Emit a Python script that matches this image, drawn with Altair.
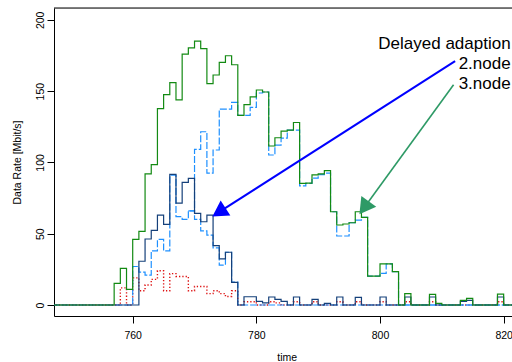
import altair as alt
import pandas as pd

# ---------------- data ----------------
time = [747, 748, 749, 750, 751, 752, 753, 754, 755, 756,
        757, 758, 759, 760, 761, 762, 763, 764, 765, 766,
        767, 768, 769, 770, 771, 772, 773, 774, 775, 776,
        777, 778, 779, 780, 781, 782, 783, 784, 785, 786,
        787, 788, 789, 790, 791, 792, 793, 794, 795, 796,
        797, 798, 799, 800, 801, 802, 803, 804, 805, 806,
        807, 808, 809, 810, 811, 812, 813, 814, 815, 816,
        817, 818, 819, 820, 821, 822]

green = [0, 0, 0, 0, 0, 0, 0, 0, 0, 0,
         15.2, 25.7, 11, 46, 51.7, 92, 98.4, 137.7, 147.5, 156,
         143.8, 176, 180.4, 185, 179.8, 155.2, 161.3, 170.2, 174.8, 168.5,
         133, 140.6, 146, 150.8, 149.4, 111.5, 117.3, 122, 122.7, 128,
         85.3, 85.5, 91.2, 91.9, 94.2, 65.4, 56.1, 56.8, 57.7, 65.4,
         61.5, 20.3, 20.3, 28.8, 28.8, 23.4, 0, 8, 0, 0,
         0, 7.5, 1.2, 0, 0, 0, 3.3, 4.7, 0, 0,
         0, 0, 7.7, 0, 0, 0]

navy = [0, 0, 0, 0, 0, 0, 0, 0, 0, 0,
        0, 0, 0, 0, 30.7, 46.3, 52.4, 63, 56.5, 91.6,
        71.5, 86, 88.8, 64.3, 58.4, 63, 41.6, 32.3, 37, 15.9,
        0, 5.8, 5.8, 2.5, 1.5, 5.6, 3.9, 2.6, 0, 5.6,
        0, 0, 4, 0, 1.2, 0, 5.6, 0, 0, 5.3,
        0, 0, 0, 5.6, 0, 0, 0, 5.6, 0, 0,
        0, 5.6, 0, 0, 0, 0, 2.5, 3.3, 0, 0,
        0, 0, 5.6, 0, 0, 0]

red = [0, 0, 0, 0, 0, 0, 0, 0, 0, 0,
       0, 12, 0, 19, 10, 14, 18, 24, 10, 22,
       20, 20, 10, 13, 13, 8, 10, 8, 6, 10,
       0, 2.3, 2.3, 0, 0, 2.3, 1.5, 0, 0, 2.3,
       0, 0, 2.3, 0, 0, 0, 2.3, 0, 0, 2.3,
       0, 0, 0, 2.3, 0, 0, 0, 2.3, 0, 0,
       0, 2.3, 0, 0, 0, 0, 0, 0, 0, 0,
       0, 0, 2.3, 0, 0, 0]

dash_b = [0, 0, 0, 0, 0, 0, 0, 0, 0, 0,
          0, 0, 0, 27, 23, 21, 38, 46, 38, 91,
          62, 60, 66, 60, 52, 49, 40, 28, 37, 16,
          0, 0, 0, 0, 0, 0, 0, 0, 0, 0,
          0, 0, 0, 0, 0, 0, 0, 0, 0, 0,
          0, 0, 0, 0, 0, 0, 0, 0, 0, 0,
          0, 0, 0, 0, 0, 0, 0, 0, 0, 0,
          0, 0, 0, 0, 0, 0]

time_a = [769, 770, 771, 772, 773, 774, 775, 776, 777, 778,
          779, 780, 781, 782, 783, 784, 785, 786, 787, 788,
          789, 790, 791, 792, 793, 794, 795, 796, 797, 798,
          799, 800, 801, 802, 803, 804, 805, 806, 807, 808,
          809, 810, 811, 812, 813, 814, 815, 816, 817, 818,
          819, 820, 821, 822]
dash_a = [66, 109.2, 121.5, 92.5, 108.7, 137.4, 137.4, 142.1, 133, 133,
          138.6, 148.7, 149.4, 105.2, 112.2, 117, 122.7, 122.7, 83.5, 85.3,
          89, 91.5, 92.5, 65.4, 48.4, 48.4, 57.7, 59.6, 61.5, 20.3,
          20.3, 22.2, 28.8, 23.4, 0, 0, 0, 0, 0, 0,
          0, 0, 0, 0, 0, 0, 0, 0, 0, 0,
          0, 0, 0, 0]

labels = ["Delayed adaption", "2.node", "3.node"]
label_t = [821.13, 821.13, 821.13]
label_v = [179.3, 165.5, 151.7]

# arrows: start (t, v) -> head centre (t, v)
arrow_t1 = [812.15, 811.9]
arrow_v1 = [171.1, 154.5]
arrow_t2 = [773.95, 797.43]
arrow_v2 = [65.1, 68.2]

XDOM = [747.27, 821.35]
YDOM = [-7.71, 208.3]
FONT = "Liberation Sans"

xs = alt.Scale(domain=XDOM, nice=False, zero=False)
ys = alt.Scale(domain=YDOM, nice=False, zero=False)

x_axis = alt.Axis(values=[760, 780, 800, 820], title="time", grid=False,
                  tickSize=7, labelPadding=7, labelFontSize=10.5, labelFont=FONT,
                  labelColor="black", domainColor="black", tickColor="black",
                  titleFont=FONT, titleFontSize=10.5, titleFontWeight="normal",
                  titleColor="black",
                  titleX=232.7, titleY=44, titleBaseline="alphabetic", titleAlign="center",
                  labelFlush=False)
y_axis = alt.Axis(values=[0, 50, 100, 150, 200], title="Data Rate [Mbit/s]", grid=False,
                  tickSize=7, labelPadding=3.5, labelFontSize=10.5, labelFont=FONT,
                  labelAngle=270, labelAlign="center", labelBaseline="alphabetic",
                  labelColor="black", domainColor="black", tickColor="black",
                  titleFont=FONT, titleFontSize=10.5, titleFontWeight="normal",
                  titleColor="black",
                  titleAngle=270, titleX=-33.5, titleY=154, titleAlign="center",
                  titleBaseline="alphabetic", labelFlush=False)


def X(field):
    return alt.X(f"{field}:Q", scale=xs, axis=x_axis, title="time")


def Y(field):
    return alt.Y(f"{field}:Q", scale=ys, axis=y_axis, title="Data Rate [Mbit/s]")


df_main = pd.DataFrame({"t": time, "green": green, "navy": navy, "red": red, "dash_b": dash_b})
df_a = pd.DataFrame({"t": time_a, "v": dash_a})


def step(df, field, color, dash=None, width=1.2):
    kw = dict(interpolate="step-after", color=color, strokeWidth=width, clip=True)
    if dash is not None:
        kw["strokeDash"] = dash
    return alt.Chart(df).mark_line(**kw).encode(x=X("t"), y=Y(field))


l_red = step(df_main, "red", "#DD1111", dash=[1.3, 2], width=1.4)
l_b = step(df_main, "dash_b", "#1E90FF", dash=[7, 2])
l_a = step(df_a, "v", "#1E90FF", dash=[7, 2])
l_navy = step(df_main, "navy", "#15407A")
l_green = step(df_main, "green", "#138A13")

top = alt.Chart(pd.DataFrame({"v": [YDOM[1]]})).mark_rule(color="black", strokeWidth=1).encode(
    y=Y("v"))

df_arrow = pd.DataFrame({"t1": arrow_t1, "v1": arrow_v1, "t2": arrow_t2, "v2": arrow_v2})
blue_line = alt.Chart(df_arrow.iloc[[0]]).mark_rule(color="#0000FF", strokeWidth=2).encode(
    x=X("t1"), y=Y("v1"), x2="t2:Q", y2="v2:Q")
green_line = alt.Chart(df_arrow.iloc[[1]]).mark_rule(color="#2E9A66", strokeWidth=1.6).encode(
    x=X("t1"), y=Y("v1"), x2="t2:Q", y2="v2:Q")
blue_head = alt.Chart(df_arrow.iloc[[0]]).mark_point(
    shape="triangle-up", filled=True, size=324, angle=237.4, color="#0000FF", opacity=1,
    strokeWidth=0).encode(x=X("t2"), y=Y("v2"))
green_head = alt.Chart(df_arrow.iloc[[1]]).mark_point(
    shape="triangle-up", filled=True, size=340, angle=216, color="#2E9A66", opacity=1,
    strokeWidth=0).encode(x=X("t2"), y=Y("v2"))

df_lab = pd.DataFrame({"t": label_t, "v": label_v, "txt": labels})
texts = alt.Chart(df_lab).mark_text(align="right", baseline="alphabetic", font=FONT,
                                    fontSize=17, color="black").encode(
    x=X("t"), y=Y("v"), text="txt:N")

chart = alt.layer(l_red, l_b, l_a, l_navy, l_green, top, blue_line, green_line,
                  blue_head, green_head, texts).properties(
    width=458, height=308,
    autosize=alt.AutoSizeParams(type="none"),
    padding={"left": 54, "top": 8, "right": 0, "bottom": 46},
).configure_view(stroke=None).configure(background="white")

chart.save("out.html", embed_options={"renderer": "svg", "actions": False})
